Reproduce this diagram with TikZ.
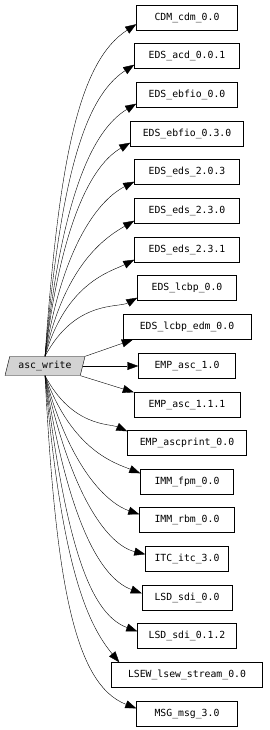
\documentclass[tikz,border=0pt]{standalone}
\usepackage{fontspec}
\usepackage{xcolor}
\usepackage{tikz}
\usetikzlibrary{shapes.geometric, arrows.meta}
\newfontfamily\graphfont{DejaVu Sans Mono}
\definecolor{funccolor}{HTML}{D3D3D3}

\begin{document}
\begin{tikzpicture}[x=1pt, y=1pt,
    func/.style={trapezium, trapezium left angle=70, trapezium right angle=110, trapezium stretches=true, draw=black, fill=funccolor, minimum width=80pt, minimum height=19pt, inner sep=0pt, font=\graphfont\fontsize{9.8}{11}\selectfont},
    module/.style={rectangle, draw=black, fill=white, minimum width=#1, minimum height=25pt, inner sep=0pt, font=\graphfont\fontsize{9.8}{11}\selectfont},
    arrow/.style={-{Triangle[length=11pt, width=8pt]}, black},
    up/.style={out looseness=1.5, in looseness=0.5}
]
\useasboundingbox (0,0) rectangle (269,730);

% The function at the left
\node[func] (asc) at (45,364) {asc\_write};

% Modules above it
\node[module=101pt] (cdm) at (187,712.5) {CDM\_cdm\_0.0};
\node[module=105pt] (acd) at (187,674) {EDS\_acd\_0.0.1};
\node[module=101pt] (ebfio-a) at (187,635) {EDS\_ebfio\_0.0};
\node[module=113pt] (ebfio-b) at (187,596) {EDS\_ebfio\_0.3.0};
\node[module=105pt] (eds-a) at (187,558) {EDS\_eds\_2.0.3};
\node[module=105pt] (eds-b) at (187,519) {EDS\_eds\_2.3.0};
\node[module=105pt] (eds-c) at (187,480) {EDS\_eds\_2.3.1};
\node[module=99pt] (lcbp) at (187,442) {EDS\_lcbp\_0.0};
\node[module=128pt] (lcbp-edm) at (187,403) {EDS\_lcbp\_edm\_0.0};

% Modules level with it and below
\node[module=97pt] (asc-a) at (187,364) {EMP\_asc\_1.0};
\node[module=106pt] (asc-b) at (187,325) {EMP\_asc\_1.1.1};
\node[module=119pt] (ascprint) at (187,287) {EMP\_ascprint\_0.0};
\node[module=93pt] (fpm) at (187,248) {IMM\_fpm\_0.0};
\node[module=95pt] (rbm) at (187,210) {IMM\_rbm\_0.0};
\node[module=83pt] (itc) at (187,171) {ITC\_itc\_3.0};
\node[module=90pt] (sdi-a) at (187,132) {LSD\_sdi\_0.0};
\node[module=99pt] (sdi-b) at (187,94) {LSD\_sdi\_0.1.2};
\node[module=151pt] (lsew) at (187,55) {LSEW\_lsew\_stream\_0.0};
\node[module=101pt] (msg) at (187,16) {MSG\_msg\_3.0};

% Calls going up
\draw[arrow] (asc.north) to[out=86, in=213, up] ([yshift=6pt]cdm.south west);
\draw[arrow] (asc.north) to[out=85, in=213, up] ([yshift=4pt]acd.south west);
\draw[arrow] (asc.north) to[out=84, in=211, up] ([yshift=4pt]ebfio-a.south west);
\draw[arrow] (asc.north) to[out=83, in=210, up] ([yshift=4pt]ebfio-b.south west);
\draw[arrow] (asc.north) to[out=81, in=207, up] ([yshift=3pt]eds-a.south west);
\draw[arrow] (asc.north) to[out=78, in=210, up] ([yshift=3pt]eds-b.south west);
\draw[arrow] (asc.north) to[out=74, in=207, up] ([yshift=3pt]eds-c.south west);
\draw[arrow] (asc.north) to[out=62, in=209, up] ([yshift=3pt]lcbp.south west);
\draw[arrow] (asc.top right corner) -- ([xshift=10pt]lcbp-edm.south west);

% Calls straight across and going down
\draw[arrow] (asc.east) -- (asc-a.west);
\draw[arrow] (asc.bottom right corner) -- (asc-b.north west);
\draw[arrow] (asc.south) to[out=-62, in=156, up] ([yshift=-1pt]ascprint.north west);
\draw[arrow] (asc.south) to[out=-70, in=158, up] ([yshift=-4pt]fpm.north west);
\draw[arrow] (asc.south) to[out=-75, in=161, up] ([yshift=-7pt]rbm.north west);
\draw[arrow] (asc.south) to[out=-78, in=166, up] ([yshift=-8pt]itc.north west);
\draw[arrow] (asc.south) to[out=-81, in=160, up] ([yshift=-8pt]sdi-a.north west);
\draw[arrow] (asc.south) to[out=-83, in=160, up] ([yshift=-8pt]sdi-b.north west);
\draw[arrow] (asc.south) to[out=-85, in=130, up] ([xshift=8pt]lsew.north west);
\draw[arrow] (asc.south) to[out=-87, in=159, up] ([yshift=-7pt]msg.north west);
\end{tikzpicture}
\end{document}
